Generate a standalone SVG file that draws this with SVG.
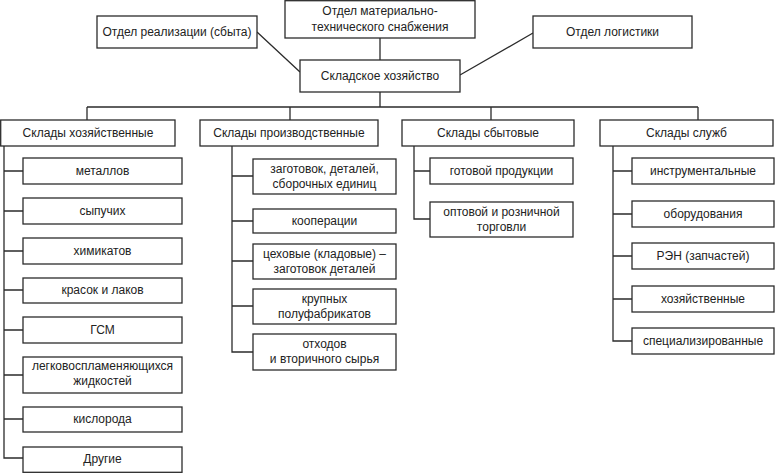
<svg xmlns="http://www.w3.org/2000/svg" width="775" height="473" viewBox="0 0 775 473">
<style>
rect{fill:#fff;stroke:#2b2b2b;stroke-width:1.3}
text{font-family:"Liberation Sans","DejaVu Sans",sans-serif;font-size:12px;fill:#222;text-anchor:middle}
.c{fill:none;stroke:#2b2b2b;stroke-width:1.3}
</style>
<rect x="0" y="0" width="775" height="473" style="stroke:none"/>
<g id="connectors">
<path class="c" d="M257,32 L300,72 M533,33 L460,75 M380,38 V60 M380,92 V107 M87,107 H698 M87,107 V120 M290,107 V120 M491,107 V120 M698,107 V120"/>
<path class="c" d="M4,146 V458 H23 M4,171 H23 M4,211 H23 M4,251 H23 M4,290 H23 M4,330 H23 M4,375 H23 M4,419 H23"/>
<path class="c" d="M232,146 V352 H253 M232,176 H253 M232,221 H253 M232,261 H253 M232,306 H253"/>
<path class="c" d="M414,146 V219 H430 M414,171 H430"/>
<path class="c" d="M613,146 V341 H632 M613,171 H632 M613,214 H632 M613,256 H632 M613,299 H632"/>
</g>
<g id="n-real"><rect x="97" y="16" width="160" height="32"/><text x="177" y="36">Отдел реализации (сбыта)</text></g>
<g id="n-mts"><rect x="285" y="0.7" width="190" height="37.3"/><text x="380" y="15">Отдел материально-</text><text x="380" y="31">технического снабжения</text></g>
<g id="n-log"><rect x="533" y="16" width="159" height="32"/><text x="612.5" y="36">Отдел логистики</text></g>
<g id="n-sklad"><rect x="300" y="60" width="160" height="32"/><text x="380" y="80">Складское хозяйство</text></g>

<g id="n-hoz"><rect x="0.7" y="120" width="174.3" height="26"/><text x="88" y="137">Склады хозяйственные</text></g>
<g id="n-proizv"><rect x="200" y="120" width="178" height="26"/><text x="289" y="137">Склады производственные</text></g>
<g id="n-sbyt"><rect x="402" y="120" width="172" height="26"/><text x="488" y="137">Склады сбытовые</text></g>
<g id="n-sluzhb"><rect x="600" y="120" width="173" height="26"/><text x="686.5" y="137">Склады служб</text></g>

<g id="n-h1"><rect x="23" y="158" width="159" height="26"/><text x="102.5" y="175">металлов</text></g>
<g id="n-h2"><rect x="23" y="198" width="159" height="26"/><text x="102.5" y="215">сыпучих</text></g>
<g id="n-h3"><rect x="23" y="238" width="159" height="26"/><text x="102.5" y="255">химикатов</text></g>
<g id="n-h4"><rect x="23" y="278" width="159" height="25"/><text x="102.5" y="294">красок и лаков</text></g>
<g id="n-h5"><rect x="23" y="317" width="159" height="26"/><text x="102.5" y="334">ГСМ</text></g>
<g id="n-h6"><rect x="23" y="357" width="159" height="36"/><text x="102.5" y="370">легковоспламеняющихся</text><text x="102.5" y="385">жидкостей</text></g>
<g id="n-h7"><rect x="23" y="407" width="159" height="25"/><text x="102.5" y="423">кислорода</text></g>
<g id="n-h8"><rect x="23" y="447" width="159" height="25.3"/><text x="102.5" y="463">Другие</text></g>

<g id="n-p1"><rect x="253" y="159" width="143" height="35"/><text x="324.5" y="173">заготовок, деталей,</text><text x="324.5" y="188">сборочных единиц</text></g>
<g id="n-p2"><rect x="253" y="209" width="143" height="24"/><text x="324.5" y="225">кооперации</text></g>
<g id="n-p3"><rect x="253" y="244" width="143" height="35"/><text x="324.5" y="258">цеховые (кладовые) –</text><text x="324.5" y="273">заготовок деталей</text></g>
<g id="n-p4"><rect x="253" y="289" width="143" height="35"/><text x="324.5" y="303">крупных</text><text x="324.5" y="318">полуфабрикатов</text></g>
<g id="n-p5"><rect x="253" y="334" width="143" height="36"/><text x="324.5" y="348">отходов</text><text x="324.5" y="363">и вторичного сырья</text></g>

<g id="n-s1"><rect x="430" y="158" width="143" height="26"/><text x="501.5" y="175">готовой продукции</text></g>
<g id="n-s2"><rect x="430" y="202" width="143" height="35"/><text x="501.5" y="216">оптовой и розничной</text><text x="501.5" y="231">торговли</text></g>

<g id="n-c1"><rect x="632" y="158" width="142" height="26"/><text x="703" y="175">инструментальные</text></g>
<g id="n-c2"><rect x="632" y="201" width="142" height="26"/><text x="703" y="218">оборудования</text></g>
<g id="n-c3"><rect x="632" y="243" width="142" height="26"/><text x="703" y="260">РЭН (запчастей)</text></g>
<g id="n-c4"><rect x="632" y="286" width="142" height="26"/><text x="703" y="303">хозяйственные</text></g>
<g id="n-c5"><rect x="632" y="328" width="142" height="26"/><text x="703" y="345">специализированные</text></g>
</svg>
